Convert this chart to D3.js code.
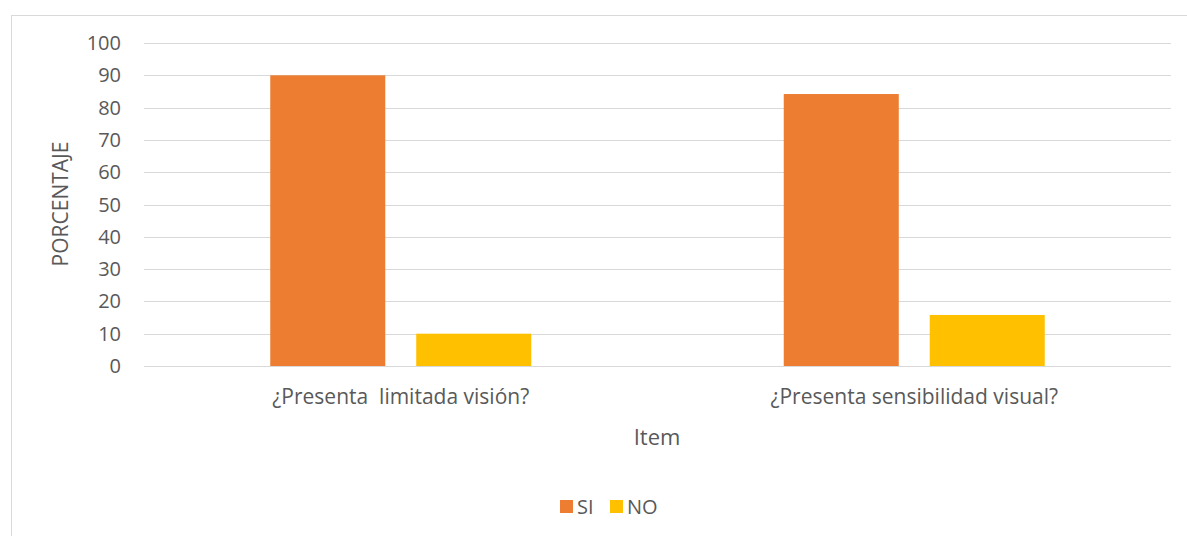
<!DOCTYPE html>
<html>
<head>
<meta charset="utf-8">
<script src="https://cdn.jsdelivr.net/npm/d3@7"></script>
<style>
  body { margin: 0; background: #fff; }
  text { font-family: "Open Sans", Lato, sans-serif; fill: #595959; white-space: pre; }
</style>
</head>
<body>
<svg id="chart" width="1187" height="536"></svg>
<script>
// data
var categories = ["¿Presenta  limitada visión?", "¿Presenta sensibilidad visual?"];
var series = ["SI", "NO"];
var siValues = [90, 84.2];
var noValues = [10, 15.8];
var yTicks = [0, 10, 20, 30, 40, 50, 60, 70, 80, 90, 100];
var colors = { "SI": "#ed7d31", "NO": "#ffc000" };

var svg = d3.select("#chart");

// outer chart border
svg.append("rect")
    .attr("x", 11.5).attr("y", 15.5)
    .attr("width", 1200).attr("height", 600)
    .attr("fill", "none").attr("stroke", "#d9d9d9");

// scales
var x0 = d3.scaleBand().domain(categories).range([144, 1171]).paddingInner(0).paddingOuter(0);
var x1 = d3.scaleBand().domain(series).range([0, x0.bandwidth()]).paddingInner(0.212).paddingOuter(0.865);
var y = d3.scaleLinear().domain([0, 100]).range([366, 43]);

// gridlines
svg.append("g").selectAll("line").data(yTicks).enter().append("line")
    .attr("x1", 144).attr("x2", 1171)
    .attr("y1", d => Math.round(y(d)) + 0.5).attr("y2", d => Math.round(y(d)) + 0.5)
    .attr("stroke", "#d9d9d9").attr("stroke-width", 1);

// y tick labels
svg.append("g").selectAll("text").data(yTicks).enter().append("text")
    .attr("x", 121).attr("y", d => y(d))
    .attr("dy", "0.35em").attr("text-anchor", "end")
    .style("font-size", "20px")
    .text(d => d);

// bars
var rows = categories.map((c, i) => ({ cat: c, vals: [ { s: "SI", v: siValues[i] }, { s: "NO", v: noValues[i] } ] }));
var groups = svg.append("g").selectAll("g").data(rows).enter().append("g")
    .attr("transform", d => "translate(" + x0(d.cat) + ",0)");
groups.selectAll("rect").data(d => d.vals).enter().append("rect")
    .attr("x", d => x1(d.s)).attr("width", x1.bandwidth())
    .attr("y", d => y(d.v)).attr("height", d => y(0) - y(d.v))
    .attr("fill", d => colors[d.s]);

// category labels
svg.append("g").selectAll("text").data(categories).enter().append("text")
    .attr("x", d => x0(d) + x0.bandwidth() / 2).attr("y", 397)
    .attr("dy", "0.35em").attr("text-anchor", "middle")
    .style("font-size", "21px")
    .text(d => d);

// axis titles
svg.append("text").attr("x", 657).attr("y", 437).attr("dy", "0.35em")
    .attr("text-anchor", "middle").style("font-size", "22px").text("Item");
svg.append("text").attr("transform", "translate(61,204) rotate(-90)").attr("dy", "0.35em")
    .attr("text-anchor", "middle").style("font-size", "21px").text("PORCENTAJE");

// legend
var legend = svg.append("g").selectAll("g").data(series).enter().append("g")
    .attr("transform", (d, i) => "translate(" + (560 + i * 50) + ",500)");
legend.append("rect").attr("width", 13).attr("height", 13).attr("fill", d => colors[d]);
legend.append("text").attr("x", 17).attr("y", 7).attr("dy", "0.35em")
    .style("font-size", "20px").text(d => d);
</script>
</body>
</html>
